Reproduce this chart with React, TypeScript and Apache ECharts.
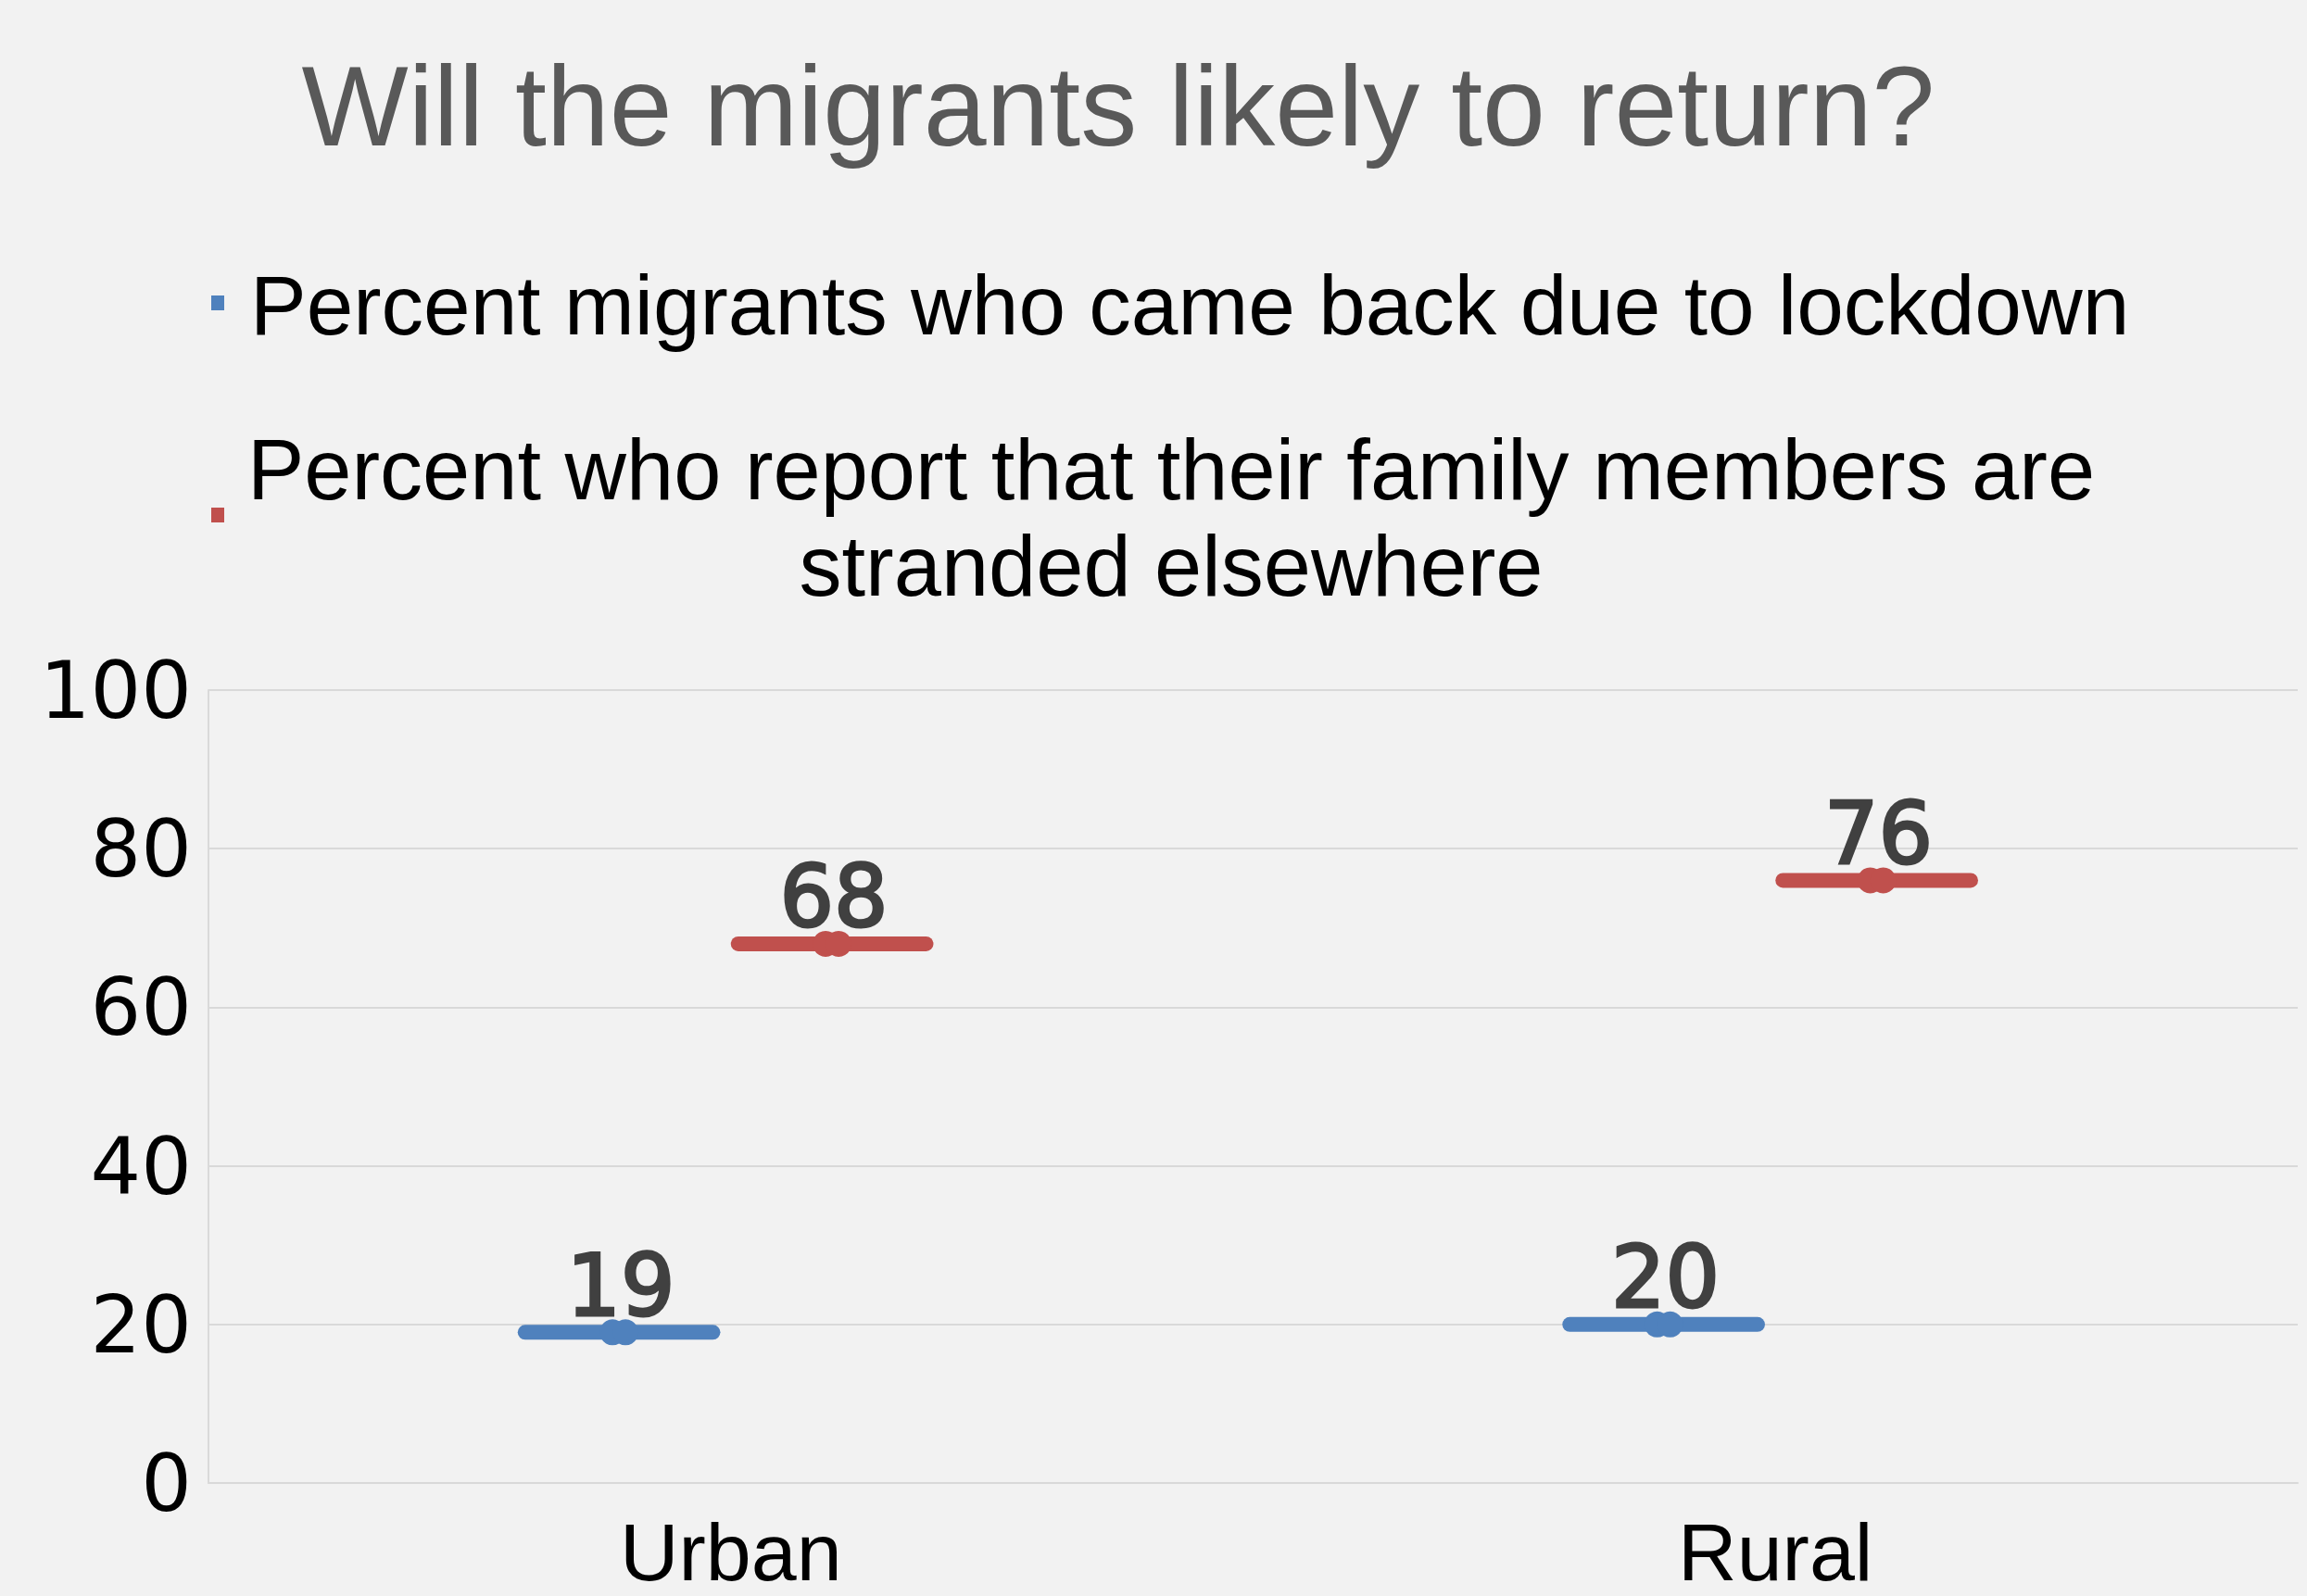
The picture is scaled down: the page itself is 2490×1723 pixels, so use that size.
import React, { useEffect, useRef } from "react";
import * as echarts from "echarts";

const TITLE = "Will the migrants likely to return?";
const categories = ["Urban", "Rural"];
const seriesNames = [
  "Percent migrants who came back due to lockdown",
  "Percent who report that their family members are\nstranded elsewhere",
];
const cameBackDueToLockdown = [19, 20];
const familyStrandedElsewhere = [68, 76];
const yTicks = { min: 0, max: 100, interval: 20 };

const BLUE = "#4f81bd";
const RED = "#c0504d";
const GRID = "#d9d9d9";
const TEXT_FONT = "'Liberation Sans', Arial, sans-serif";
const NUM_FONT = "'DejaVu Sans', Verdana, sans-serif";

function makeRenderItem(color: string, startFrac: number, endFrac: number) {
  return (params: any, api: any) => {
    const idx = api.value(0);
    const val = api.value(1);
    const p = api.coord([idx, val]);
    const band = api.size([1, 0])[0];
    const lw = 16;
    const x1 = p[0] + startFrac * band + lw / 2;
    const x2 = p[0] + endFrac * band - lw / 2;
    const cx = (x1 + x2) / 2;
    const cy = p[1];
    return {
      type: "group",
      children: [
        {
          type: "line",
          shape: { x1, y1: cy, x2, y2: cy },
          style: { stroke: color, lineWidth: lw, lineCap: "round" },
        },
        { type: "circle", shape: { cx: cx - 7, cy, r: 14 }, style: { fill: color } },
        { type: "circle", shape: { cx: cx + 7, cy, r: 14 }, style: { fill: color } },
        {
          type: "text",
          x: cx + 2,
          y: cy - 4,
          style: {
            text: String(val),
            align: "center",
            verticalAlign: "bottom",
            fontSize: 92,
            fontFamily: NUM_FONT,
            fill: "#404040",
            stroke: "#404040",
            lineWidth: 3,
          },
        },
      ],
    };
  };
}

export default function App() {
  const ref = useRef<HTMLDivElement>(null);
  useEffect(() => {
    document.body.style.margin = "0";
    const chart = echarts.init(ref.current!, null, { renderer: "svg" });
    chart.setOption({
      animation: false,
      backgroundColor: "#f2f2f2",
      title: {
        text: TITLE,
        left: 1202,
        textAlign: "center",
        top: 49,
        textStyle: {
          fontFamily: TEXT_FONT,
          fontSize: 122,
          fontWeight: "normal",
          color: "#595959",
        },
      },
      graphic: [
        { type: "rect", shape: { x: 228, y: 319, width: 14, height: 16 }, style: { fill: BLUE } },
        {
          type: "text",
          x: 270,
          y: 329,
          style: {
            text: seriesNames[0],
            fontFamily: TEXT_FONT,
            fontSize: 91,
            fill: "#000000",
            align: "left",
            verticalAlign: "middle",
          },
        },
        { type: "rect", shape: { x: 228, y: 548, width: 14, height: 16 }, style: { fill: RED } },
        {
          type: "text",
          x: 1264,
          y: 559,
          style: {
            text: seriesNames[1],
            fontFamily: TEXT_FONT,
            fontSize: 92,
            lineHeight: 104,
            fill: "#000000",
            align: "center",
            verticalAlign: "middle",
          },
        },
      ],
      grid: { left: 225, right: 10, top: 745, bottom: 122, containLabel: false },
      xAxis: {
        type: "category",
        data: categories,
        axisLine: { show: true, lineStyle: { color: GRID, width: 2 } },
        axisTick: { show: false },
        axisLabel: {
          fontFamily: TEXT_FONT,
          fontSize: 88,
          color: "#000000",
          margin: 30,
        },
        splitLine: { show: false },
      },
      yAxis: {
        type: "value",
        min: yTicks.min,
        max: yTicks.max,
        interval: yTicks.interval,
        axisLine: { show: true, lineStyle: { color: GRID, width: 2 } },
        axisTick: { show: false },
        axisLabel: {
          fontFamily: NUM_FONT,
          fontSize: 86,
          color: "#000000",
          margin: 18,
        },
        splitLine: { show: true, lineStyle: { color: GRID, width: 2 } },
      },
      series: [
        {
          name: seriesNames[0],
          type: "custom",
          renderItem: makeRenderItem(BLUE, -0.204, -0.01),
          encode: { x: 0, y: 1 },
          data: cameBackDueToLockdown.map((v, i) => [i, v]),
          z: 3,
        },
        {
          name: seriesNames[1],
          type: "custom",
          renderItem: makeRenderItem(RED, 0.0, 0.194),
          encode: { x: 0, y: 1 },
          data: familyStrandedElsewhere.map((v, i) => [i, v]),
          z: 3,
        },
      ],
    });
    return () => chart.dispose();
  }, []);
  return (
    <div
      ref={ref}
      style={{ position: "fixed", left: 0, top: 0, width: 2490, height: 1723 }}
    />
  );
}
